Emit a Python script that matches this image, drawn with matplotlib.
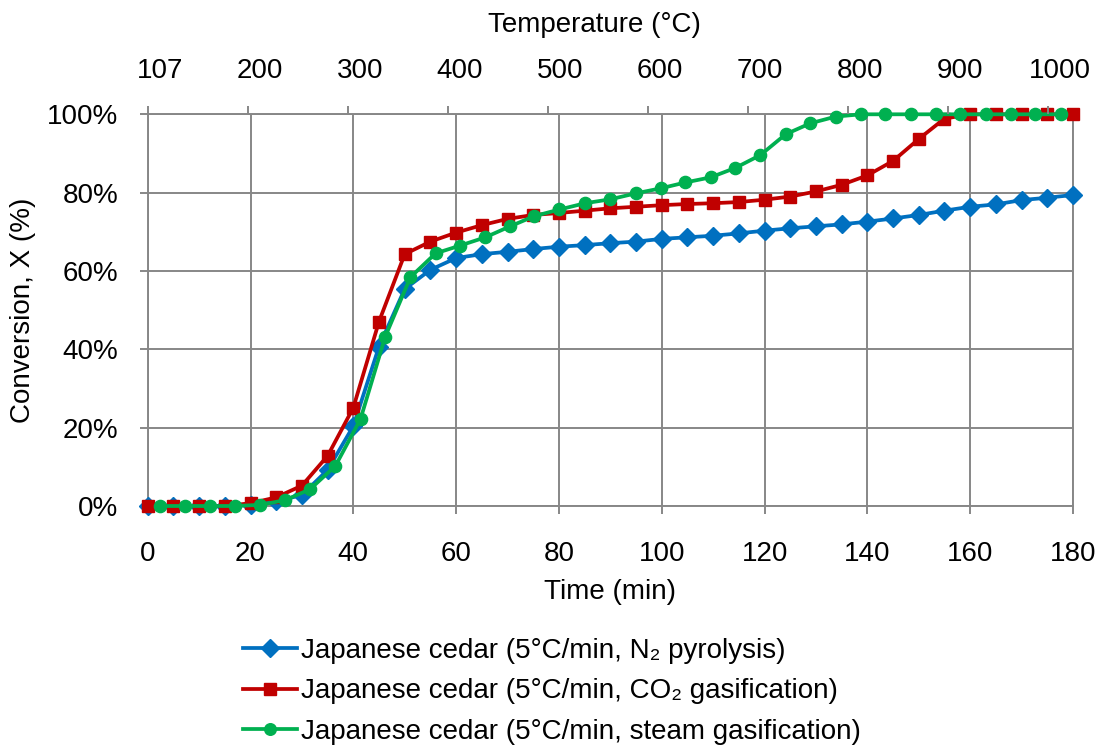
import matplotlib
matplotlib.use("Agg")
import matplotlib.pyplot as plt
from matplotlib.ticker import FixedLocator, FuncFormatter, NullFormatter

plt.rcParams['font.family'] = ['Liberation Sans', 'DejaVu Sans']

# ---------------- data ----------------
time_n2 = [0, 5, 10, 15, 20, 25, 30, 35, 40, 45, 50, 55, 60, 65, 70, 75, 80, 85, 90,
           95, 100, 105, 110, 115, 120, 125, 130, 135, 140, 145, 150, 155, 160, 165,
           170, 175, 180]
conv_n2 = [0, 0, 0, 0, 0.3, 1.2, 2.8, 9.2, 20.4, 40.7, 55.4, 60.3, 63.3, 64.3, 64.9,
           65.6, 66.2, 66.6, 67.1, 67.5, 68.2, 68.6, 69.0, 69.6, 70.3, 70.9, 71.4,
           71.9, 72.6, 73.4, 74.3, 75.4, 76.4, 77.0, 78.1, 78.7, 79.4]

time_co2 = time_n2
conv_co2 = [0, 0, 0, 0, 0.7, 2.2, 5.2, 12.8, 25.1, 47.1, 64.3, 67.5, 69.8, 71.7, 73.3,
            74.3, 74.8, 75.4, 76.0, 76.4, 76.8, 77.1, 77.3, 77.6, 78.2, 79.0, 80.3,
            82.0, 84.4, 88.1, 93.7, 98.9, 100, 100, 100, 100, 100]

time_steam = [2.4, 7.3, 12.1, 17.0, 21.9, 26.8, 31.6, 36.5, 41.4, 46.2, 51.1, 56.0,
              60.8, 65.7, 70.5, 75.2, 80.1, 85.1, 90.0, 94.9, 99.8, 104.6, 109.5,
              114.3, 119.2, 124.1, 128.9, 133.8, 138.7, 143.5, 148.4, 153.3, 158.1,
              163.0, 167.9, 172.7, 177.6]
conv_steam = [0, 0, 0, 0, 0.3, 1.5, 4.3, 10.2, 22.2, 43.2, 58.4, 64.5, 66.5, 68.6,
              71.4, 74.0, 75.7, 77.3, 78.3, 79.8, 81.1, 82.6, 83.9, 86.3, 89.6, 94.9,
              97.7, 99.4, 100, 100, 100, 100, 100, 100, 100, 100, 100]

labels = ["Japanese cedar (5°C/min, N₂ pyrolysis)",
          "Japanese cedar (5°C/min, CO₂ gasification)",
          "Japanese cedar (5°C/min, steam gasification)"]

x_ticks = [0, 20, 40, 60, 80, 100, 120, 140, 160, 180]
y_ticks = [0, 20, 40, 60, 80, 100]
temp_labels = ["107", "200", "300", "400", "500", "600", "700", "800", "900", "1000"]

# ---------------- style ----------------
W, H = 1100, 745
FS = 20
GRID = "#878787"
C_BLUE, C_RED, C_GREEN = "#0070C0", "#C00000", "#00B050"

fig = plt.figure(figsize=(W / 100, H / 100), dpi=100)
x0, x1 = 147.7, 1073.0
y_top, y_bot = 114.3, 506.0
ax = fig.add_axes([x0 / W, 1 - y_bot / H, (x1 - x0) / W, (y_bot - y_top) / H])

ax.set_xlim(0, 180)
ax.set_ylim(0, 100)
ax.set_xticks(x_ticks)
ax.set_yticks(y_ticks)
ax.yaxis.set_major_formatter(FuncFormatter(lambda v, p: f"{int(v)}%"))
ax.grid(True, color=GRID, linewidth=1.4)
ax.set_axisbelow(True)
for s in ax.spines.values():
    s.set_color(GRID)
    s.set_linewidth(1.4)
ax.tick_params(axis='both', direction='out', length=6, width=1.4, color=GRID,
               labelsize=FS, labelcolor='black')
ax.tick_params(axis='x', pad=19)
ax.tick_params(axis='y', pad=15)

lw = 2.7
ax.plot(time_n2, conv_n2, color=C_BLUE, lw=lw, marker='D', ms=9.5, clip_on=False,
        label=labels[0], zorder=3)
ax.plot(time_co2, conv_co2, color=C_RED, lw=lw, marker='s', ms=8.7, clip_on=False,
        label=labels[1], zorder=4)
ax.plot(time_steam, conv_steam, color=C_GREEN, lw=lw, marker='o', ms=8.8, clip_on=False,
        label=labels[2], zorder=5)

# top (temperature) axis
ax2 = ax.twiny()
ax2.set_xlim(0, 180)
step = 100 / ((x1 - x0) / 180)  # 100 px in minutes
tick_pos = [i * step for i in range(len(temp_labels))]
lab_pos = [p + 12 / ((x1 - x0) / 180) for p in tick_pos]
ax2.xaxis.set_minor_locator(FixedLocator(tick_pos))
ax2.xaxis.set_minor_formatter(NullFormatter())
ax2.xaxis.set_major_locator(FixedLocator(lab_pos))
ax2.set_xticklabels(temp_labels)
ax2.tick_params(axis='x', which='major', length=0, pad=22, labelsize=FS)
ax2.tick_params(axis='x', which='minor', direction='out', length=6, width=1.4, color=GRID)
for s in ax2.spines.values():
    s.set_visible(False)

fig.text(594.5 / W, 1 - 25 / H, "Temperature (°C)", ha='center', va='center', fontsize=FS)
fig.text(610 / W, 1 - 592 / H, "Time (min)", ha='center', va='center', fontsize=FS)
fig.text(23 / W, 1 - 310 / H, "Conversion, X (%)", ha='center', va='center',
         rotation=90, fontsize=FS)

handles, labs = ax.get_legend_handles_labels()
fig.legend(handles, labs, loc='upper left', bbox_to_anchor=(243 / W, 1 - 638 / H),
           frameon=False, fontsize=FS, handlelength=1.95, handletextpad=0.15,
           labelspacing=0.52, borderpad=0, borderaxespad=0, markerscale=0.95)

fig.savefig("out.png", dpi=100)
